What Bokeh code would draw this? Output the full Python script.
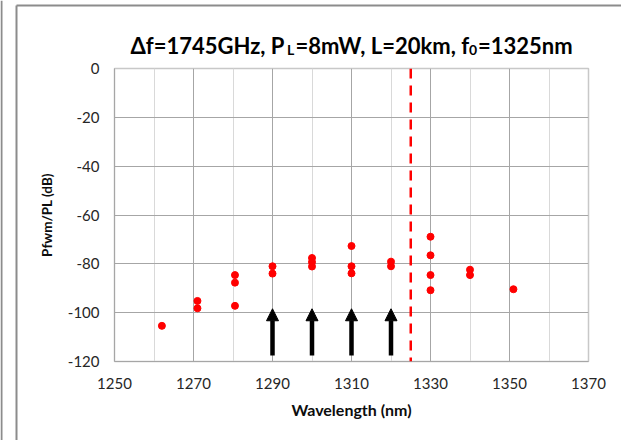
from bokeh.plotting import figure
from bokeh.models import (Span, Arrow, NormalHead, FixedTicker, ColumnDataSource)
from bokeh.embed import file_html
from bokeh.resources import INLINE
from bokeh.core.properties import value

# ---- data ----
wavelengths = [1262, 1271, 1271, 1280.5, 1280.5, 1280.5, 1290, 1290,
               1300, 1300, 1300, 1310, 1310, 1310, 1320, 1320,
               1330, 1330, 1330, 1330, 1340, 1340, 1351]
pfwm_db = [-105.4, -95.2, -98.2, -84.6, -87.7, -97.2, -81.0, -84.0,
           -77.6, -79.3, -81.1, -72.7, -81.0, -83.9, -79.1, -81.0,
           -68.9, -76.5, -84.6, -90.8, -82.4, -84.6, -90.4]
arrow_wavelengths = [1290, 1300, 1310, 1320]
arrow_start_db = [-117.5, -117.5, -117.5, -117.5]
arrow_end_db = [-98.4, -98.4, -98.4, -98.4]
f0_nm = 1325
x_major_ticks = [1250, 1270, 1290, 1310, 1330, 1350, 1370]
x_minor_ticks = [1260, 1280, 1300, 1320, 1340, 1360]
y_ticks = [-120, -100, -80, -60, -40, -20, 0]
y_tick_labels = ["-120", "-100", "-80", "-60", "-40", "-20", "0"]
title_parts = ["\u0394f=1745GHz, P", "L", "=8mW, L=20km, f", "0", "=1325nm"]

FONT = "Lato"

p = figure(width=621, height=440, x_range=(1250, 1370), y_range=(-120, 0),
           output_backend="svg", toolbar_location=None,
           min_border_left=114, min_border_right=33,
           min_border_top=68, min_border_bottom=79)
p.styles = {"position": "absolute", "left": "0px", "top": "0px", "z-index": "0"}
p.background_fill_color = "white"
p.border_fill_color = "white"
p.outline_line_color = "#c8c8c8"
p.outline_line_width = 1.5

# axes
p.xaxis.ticker = FixedTicker(ticks=x_major_ticks, minor_ticks=x_minor_ticks)
p.yaxis.ticker = FixedTicker(ticks=y_ticks)
p.yaxis.major_label_overrides = dict(zip(y_ticks, y_tick_labels))
for ax in (p.xaxis, p.yaxis):
    ax.major_tick_line_color = None
    ax.minor_tick_line_color = None
    ax.major_tick_out = 0
    ax.major_tick_in = 0
    ax.minor_tick_out = 0
    ax.minor_tick_in = 0
    ax.axis_line_color = "#a6a6a6"
    ax.major_label_text_font = FONT
    ax.major_label_text_font_size = "15px"
    ax.major_label_text_color = "#262626"
    ax.axis_label_text_font = FONT
    ax.axis_label_text_font_style = "bold"
    ax.axis_label_text_color = "#0d0d0d"
p.xaxis.axis_label = "Wavelength (nm)"
p.yaxis.axis_label = "Pfwm/PL (dB)"
p.xaxis.axis_label_text_font_size = "16px"
p.yaxis.axis_label_text_font_size = "13.5px"
p.xaxis.major_label_standoff = 16
p.yaxis.major_label_standoff = 15
p.xaxis.axis_label_standoff = 8
p.yaxis.axis_label_standoff = 10

# grids
p.xgrid.grid_line_color = "#a6a6a6"
p.xgrid.minor_grid_line_color = "#d9d9d9"
p.ygrid.grid_line_color = "#a6a6a6"

# data points
p.scatter(wavelengths, pfwm_db, size=7, color="#ff0000")

# f0 dashed line
p.add_layout(Span(location=f0_nm, dimension="height", line_color="#ff0000",
                  line_width=2.5, line_dash="10 7"))

# arrows
asrc = ColumnDataSource(dict(x=arrow_wavelengths, y0=arrow_start_db, y1=arrow_end_db))
p.add_layout(Arrow(source=asrc, x_start="x", y_start="y0", x_end="x", y_end="y1",
                   line_width=4.5, line_color="black",
                   end=NormalHead(size=12, fill_color="black", line_color="black",
                                  line_width=1)))

# ---- overlay in page pixels: title with subscripts and chart-area borders ----
ov = figure(width=621, height=440, x_range=(0, 621), y_range=(440, 0),
            output_backend="svg", toolbar_location=None, min_border=0,
            x_axis_type=None, y_axis_type=None)
ov.styles = {"position": "absolute", "left": "0px", "top": "0px", "z-index": "1"}
ov.outline_line_color = None
ov.background_fill_alpha = 0
ov.border_fill_alpha = 0

title_src = ColumnDataSource(dict(
    text=title_parts,
    x=[130, 286.5, 295, 468.5, 477.5],
    y=[45, 49, 45, 49, 45],
    size=["22px", "14px", "22px", "14px", "22px"],
))
ov.text(x="x", y="y", text="text", source=title_src,
        text_font=value(FONT), text_font_style="bold", text_font_size="size",
        text_align="left", text_baseline="alphabetic", text_color="#000000")

ov.segment(x0=[1, 16, 16], y0=[0, 5, 5], x1=[1, 16, 630], y1=[440, 440, 5],
           line_color="#8c8c8c", line_width=2)

open("out.html", "w").write(file_html([p, ov], INLINE))
